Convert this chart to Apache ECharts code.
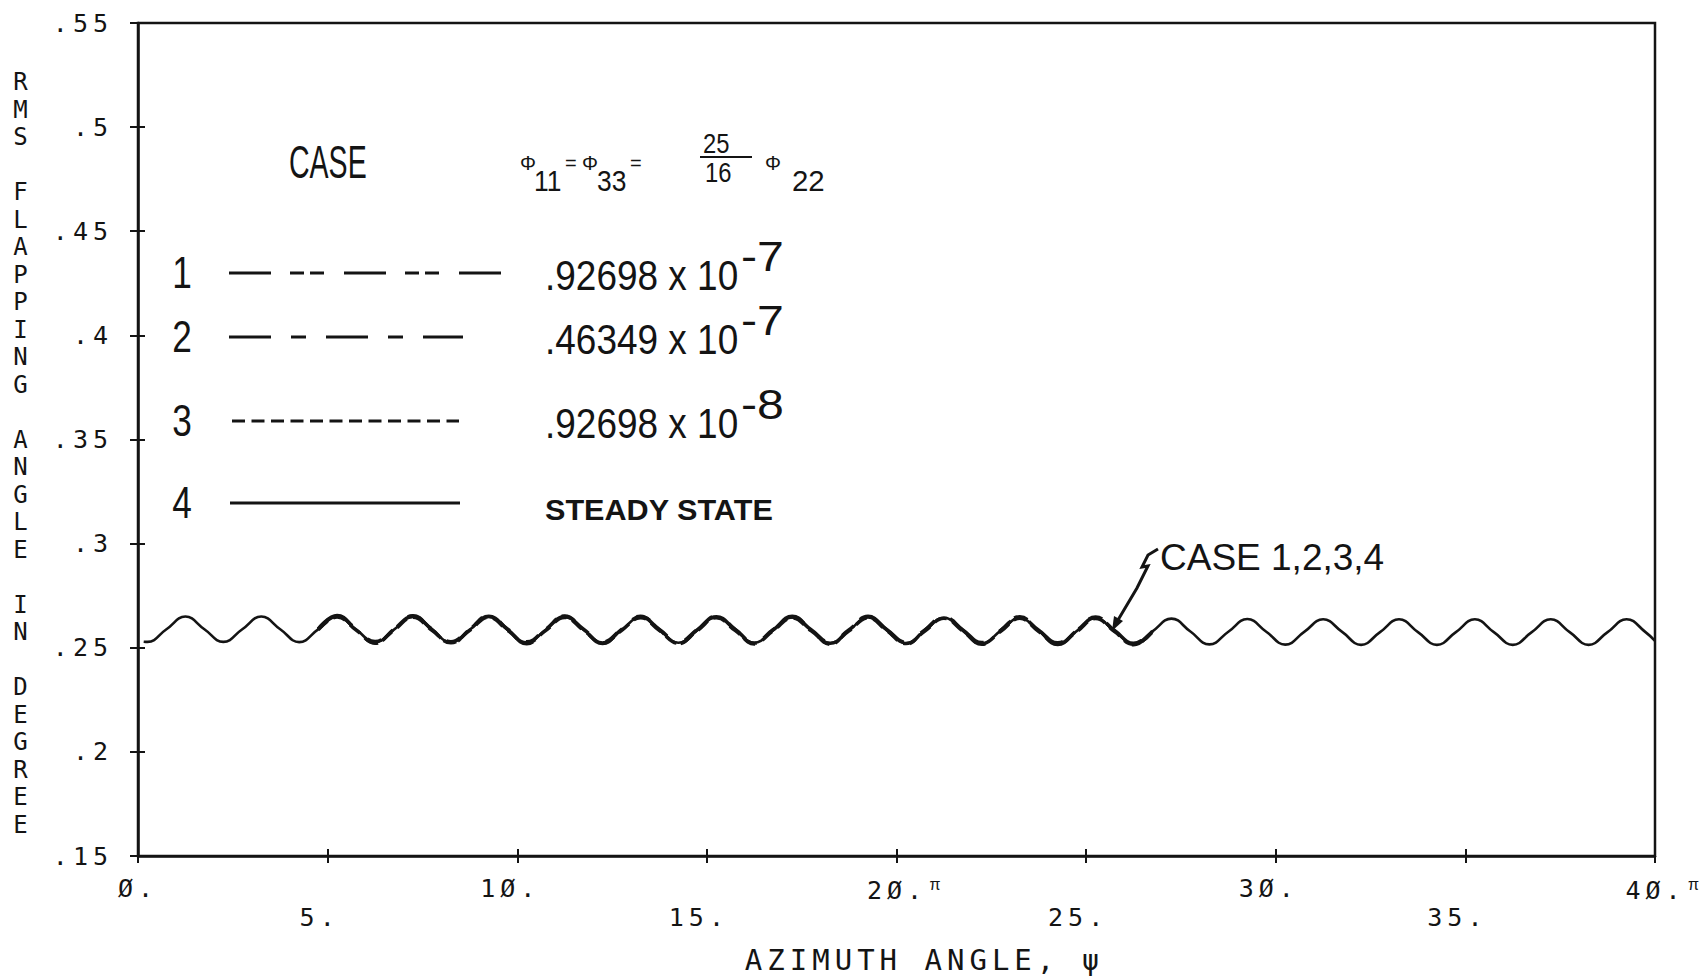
<!DOCTYPE html>
<html>
<head>
<meta charset="utf-8">
<script src="https://cdn.jsdelivr.net/npm/echarts@6/dist/echarts.min.js"></script>
<style>
  html, body { margin: 0; padding: 0; background: #fff; }
  #chart { width: 1708px; height: 979px; }
  /* plotter lettering: widely spaced monospaced glyphs */
  #chart text[style*="Mono"] { letter-spacing: 5px; }
</style>
</head>
<body>
<div id="chart"></div>
<script>
// Azimuth angle psi, in units of pi
const psi = [0.15, 0.25, 0.75, 1.25, 1.75, 2.25, 2.75, 3.25, 3.75, 4.25, 4.75, 5.25, 5.75, 6.25, 6.75, 7.25, 7.75, 8.25, 8.75, 9.25, 9.75,
  10.25, 10.75, 11.25, 11.75, 12.25, 12.75, 13.25, 13.75, 14.25, 14.75, 15.25, 15.75, 16.25, 16.75, 17.25, 17.75, 18.25, 18.75, 19.25, 19.75,
  20.25, 20.75, 21.25, 21.75, 22.25, 22.75, 23.25, 23.75, 24.25, 24.75, 25.25, 25.75, 26.25, 26.75, 27.25, 27.75, 28.25, 28.75, 29.25, 29.75,
  30.25, 30.75, 31.25, 31.75, 32.25, 32.75, 33.25, 33.75, 34.25, 34.75, 35.25, 35.75, 36.25, 36.75, 37.25, 37.75, 38.25, 38.75, 39.25, 39.75, 40];

// Case 4: steady-state RMS flapping angle (deg)
const steadyState = [0.2529, 0.2528, 0.2589, 0.2650, 0.2589, 0.2528, 0.2589, 0.2650, 0.2589, 0.2527, 0.2588, 0.2649, 0.2588, 0.2526, 0.2587, 0.2648, 0.2587, 0.2526, 0.2587, 0.2648, 0.2586,
  0.2525, 0.2586, 0.2647, 0.2586, 0.2525, 0.2586, 0.2646, 0.2585, 0.2524, 0.2585, 0.2646, 0.2585, 0.2524, 0.2585, 0.2645, 0.2584, 0.2523, 0.2584, 0.2645, 0.2584,
  0.2522, 0.2583, 0.2644, 0.2583, 0.2521, 0.2582, 0.2643, 0.2581, 0.2520, 0.2580, 0.2642, 0.2580, 0.2518, 0.2579, 0.2640, 0.2578, 0.2516, 0.2577, 0.2638, 0.2577,
  0.2515, 0.2576, 0.2637, 0.2576, 0.2514, 0.2575, 0.2637, 0.2575, 0.2514, 0.2575, 0.2637, 0.2575, 0.2514, 0.2575, 0.2637, 0.2575, 0.2514, 0.2575, 0.2637, 0.2575, 0.2533];

// Cases 1-3 (turbulence intensities), plotted from psi = 4.75 to 26.75
const transientFirst = 10;
const case1 = [0.2590, 0.2655, 0.2589, 0.2521, 0.2589, 0.2654, 0.2588, 0.2520, 0.2589, 0.2655, 0.2587, 0.2519, 0.2588, 0.2653, 0.2587, 0.2520, 0.2588, 0.2652, 0.2586, 0.2519, 0.2587, 0.2652, 0.2587,
  0.2518, 0.2586, 0.2651, 0.2586, 0.2517, 0.2586, 0.2651, 0.2585, 0.2517, 0.2585, 0.2650, 0.2584, 0.2516, 0.2584, 0.2649, 0.2583, 0.2515, 0.2582, 0.2648, 0.2581, 0.2514, 0.2580];
const case2 = [0.2590, 0.2652, 0.2591, 0.2530, 0.2590, 0.2651, 0.2590, 0.2529, 0.2590, 0.2651, 0.2589, 0.2529, 0.2589, 0.2650, 0.2589, 0.2528, 0.2589, 0.2649, 0.2588, 0.2528, 0.2588, 0.2649, 0.2588,
  0.2527, 0.2588, 0.2648, 0.2587, 0.2527, 0.2587, 0.2648, 0.2587, 0.2526, 0.2586, 0.2647, 0.2586, 0.2525, 0.2585, 0.2646, 0.2584, 0.2524, 0.2583, 0.2645, 0.2583, 0.2522, 0.2581];
const case3 = [0.2585, 0.2647, 0.2585, 0.2524, 0.2584, 0.2646, 0.2584, 0.2524, 0.2584, 0.2646, 0.2583, 0.2523, 0.2583, 0.2645, 0.2583, 0.2523, 0.2583, 0.2644, 0.2582, 0.2522, 0.2582, 0.2644, 0.2582,
  0.2522, 0.2582, 0.2643, 0.2581, 0.2521, 0.2581, 0.2643, 0.2581, 0.2520, 0.2580, 0.2642, 0.2580, 0.2519, 0.2579, 0.2641, 0.2578, 0.2518, 0.2577, 0.2640, 0.2577, 0.2516, 0.2576];

// Axis ticks and texts
const yTickLabels = ['.15', '.2', '.25', '.3', '.35', '.4', '.45', '.5', '.55'];
const xTickLabels = ['Ø.', '5.', '1Ø.', '15.', '2Ø.π', '25.', '3Ø.', '35.', '4Ø.π'];
const yTitle = 'RMS FLAPPING ANGLE IN DEGREE';
const xTitle = 'AZIMUTH ANGLE, ψ';

// Legend texts
const caseNumbers = ['1', '2', '3', '4'];
const caseCoefficients = ['.92698 x 10', '.46349 x 10', '.92698 x 10'];
const caseExponents = ['-7', '-7', '-8'];
const steadyLabel = 'STEADY STATE';
const annotation = 'CASE 1,2,3,4';

const ink = '#141414';
const mono = "'DejaVu Sans Mono', monospace";
const sans = "'Liberation Sans', Arial, sans-serif";
const caseDashes = [[42, 19, 14, 6, 14, 20], [42, 20, 15, 20], [13, 6.5], null];

function pairs(xs, ys) { return ys.map((y, i) => [xs[i], y]); }
const psiTransient = psi.slice(transientFirst, transientFirst + case1.length);

function txt(text, x, y, size, o) {
  o = o || {};
  const align = o.align || 'left';
  const va = o.va || 'middle';
  return {
    type: 'text', x: x, y: y, scaleX: o.sx || 1, silent: true,
    style: {
      text: text, fill: ink, fontSize: size, fontFamily: o.font || sans,
      fontWeight: o.weight || 'normal',
      align: align, textAlign: align, verticalAlign: va, textVerticalAlign: va
    }
  };
}

const graphics = [];
// Legend header: CASE   Φ11 = Φ33 = 25/16 Φ22
graphics.push(txt('CASE', 289, 162, 46, { sx: 0.62 }));
graphics.push(txt('Φ', 520, 163, 20));
graphics.push(txt('11', 534, 180, 30, { sx: 0.88 }));
graphics.push(txt('=', 565, 163, 20));
graphics.push(txt('Φ', 582, 163, 20));
graphics.push(txt('33', 597, 180, 30, { sx: 0.88 }));
graphics.push(txt('=', 630, 163, 20));
graphics.push(txt('25', 703, 143, 28, { sx: 0.85 }));
graphics.push({ type: 'line', silent: true, shape: { x1: 700, y1: 157, x2: 752, y2: 157 }, style: { stroke: ink, lineWidth: 2 } });
graphics.push(txt('16', 705, 172, 28, { sx: 0.85 }));
graphics.push(txt('Φ', 765, 163, 20));
graphics.push(txt('22', 792, 180, 30, { sx: 0.98 }));

// Legend rows
const rowY = [273, 337, 421, 503];
const lineSpan = [[229, 501], [229, 463], [232, 459], [230, 460]];
rowY.forEach((y, i) => {
  graphics.push(txt(caseNumbers[i], 182, y, 44, { align: 'center', sx: 0.8 }));
  const line = { type: 'line', silent: true, shape: { x1: lineSpan[i][0], y1: y, x2: lineSpan[i][1], y2: y },
    style: { stroke: ink, lineWidth: 3 } };
  if (caseDashes[i]) line.style.lineDash = caseDashes[i];
  graphics.push(line);
  if (i < 3) {
    graphics.push(txt(caseCoefficients[i], 545, y + 2, 43, { sx: 0.86 }));
    graphics.push(txt(caseExponents[i], 741, y - 16, 42, { sx: 1.15 }));
  }
});
graphics.push(txt(steadyLabel, 545, 510, 30, { weight: 'bold', sx: 1.02 }));

// Callout pointing at the overlapping curves
graphics.push(txt(annotation, 1160, 557, 37));
graphics.push({ type: 'polyline', silent: true,
  shape: { points: [[1158, 549], [1148, 555], [1142, 567], [1148, 566], [1137, 588], [1118, 620]] },
  style: { stroke: ink, lineWidth: 3, fill: null } });
graphics.push({ type: 'polygon', silent: true,
  shape: { points: [[1112, 631], [1123, 621], [1114, 616]] },
  style: { fill: ink } });

const labelStyle = { fontFamily: mono, fontSize: 25, color: ink };

const option = {
  backgroundColor: '#ffffff',
  animation: false,
  grid: { left: 138, right: 53, top: 23, bottom: 115, show: true, borderColor: ink, borderWidth: 2.5 },
  xAxis: [{
    type: 'value', min: 0, max: 40, interval: 5, position: 'bottom',
    axisLine: { lineStyle: { color: ink, width: 2.5 } },
    axisTick: { length: 7, lineStyle: { color: ink, width: 2 } },
    splitLine: { show: false },
    axisLabel: {
      margin: 20,
      formatter: v => {
        const k = Math.round(v / 5);
        const parts = xTickLabels[k].split('π');
        if (parts.length > 1) return '{pre|' + parts[0] + '}{pi|π}';
        const row = k === 0 ? 'zero' : (k % 2 === 0 ? 'up' : 'lo');
        return '{' + row + '|' + parts[0] + '}';
      },
      rich: {
        zero: Object.assign({}, labelStyle),
        up: Object.assign({ padding: [0, 14, 0, 0] }, labelStyle),
        lo: Object.assign({ padding: [29, 16, 0, 0] }, labelStyle),
        pre: Object.assign({ padding: [0, 0, 0, 22] }, labelStyle),
        pi: { fontFamily: sans, fontSize: 16, color: ink, padding: [0, 0, 12, 10] }
      }
    },
    name: xTitle, nameLocation: 'middle', nameGap: 89,
    nameTextStyle: { fontFamily: mono, fontSize: 29, color: ink, padding: [0, 0, 0, 56] }
  }, {
    type: 'value', min: 0, max: 40, interval: 5, position: 'bottom',
    axisLine: { show: false }, axisLabel: { show: false }, splitLine: { show: false },
    axisTick: { inside: true, length: 7, lineStyle: { color: ink, width: 2 } }
  }],
  yAxis: [{
    type: 'value', min: 0.15, max: 0.55, interval: 0.05, position: 'left',
    axisLine: { lineStyle: { color: ink, width: 2.5 } },
    axisTick: { length: 8, lineStyle: { color: ink, width: 2 } },
    splitLine: { show: false },
    axisLabel: Object.assign({ margin: 25, formatter: v => yTickLabels[Math.round((v - 0.15) / 0.05)] }, labelStyle),
    // stacked upright letters, one per line, set half a line below the axis centre
    name: '\n' + yTitle.split('').join('\n'), nameLocation: 'middle', nameRotate: 0, nameGap: 115,
    nameTextStyle: { fontFamily: mono, fontSize: 24, color: ink, lineHeight: 27.5, align: 'center' }
  }, {
    type: 'value', min: 0.15, max: 0.55, interval: 0.05, position: 'left',
    axisLine: { show: false }, axisLabel: { show: false }, splitLine: { show: false },
    axisTick: { inside: true, length: 7, lineStyle: { color: ink, width: 2 } }
  }],
  series: [
    { name: 'CASE 4', type: 'line', data: pairs(psi, steadyState), showSymbol: false, smooth: 0.45,
      lineStyle: { color: ink, width: 2.6 }, z: 3 },
    { name: 'CASE 1', type: 'line', data: pairs(psiTransient, case1), showSymbol: false, smooth: 0.45,
      lineStyle: { color: ink, width: 3.4, type: caseDashes[0] }, z: 4 },
    { name: 'CASE 2', type: 'line', data: pairs(psiTransient, case2), showSymbol: false, smooth: 0.45,
      lineStyle: { color: ink, width: 3.4, type: caseDashes[1] }, z: 4 },
    { name: 'CASE 3', type: 'line', data: pairs(psiTransient, case3), showSymbol: false, smooth: 0.45,
      lineStyle: { color: ink, width: 3.4, type: caseDashes[2] }, z: 4 }
  ],
  graphic: graphics
};

const chart = echarts.init(document.getElementById('chart'), null, { renderer: 'svg' });
chart.setOption(option);
</script>
</body>
</html>
